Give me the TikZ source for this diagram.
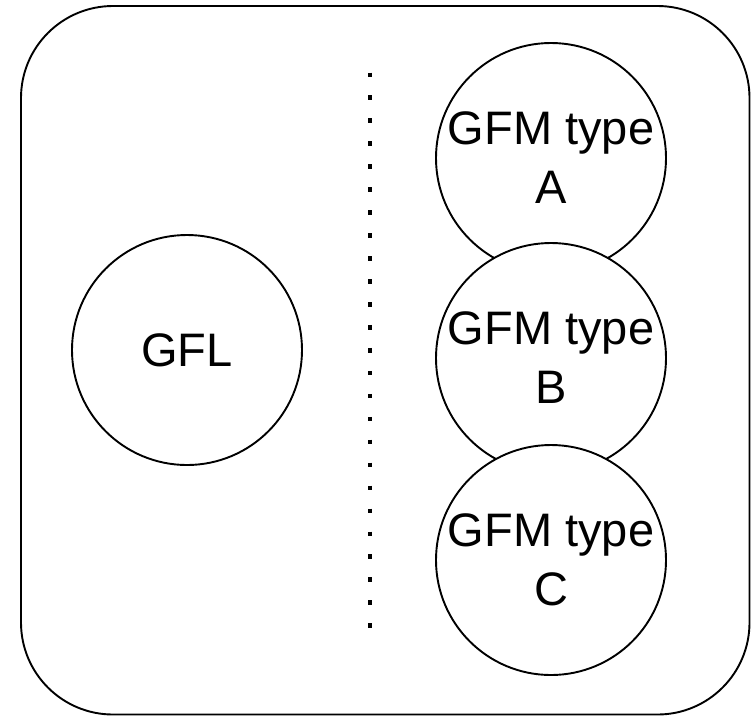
\documentclass[tikz,border=0pt]{standalone}
\usepackage{fontspec}
\setmainfont{Liberation Sans}
\usetikzlibrary{positioning}

\begin{document}
\begin{tikzpicture}[x=1pt,y=-1pt,
                unit/.style={circle,draw,fill=white,line width=1.9pt,minimum size=230pt,inner sep=0pt,align=center,
                  font=\fontsize{47}{59}\selectfont}]
                \useasboundingbox (0,0) rectangle (751,716);
                \draw[line width=1.9pt,rounded corners=92pt] (21,6) rectangle (749.5,714.5);
                \node[unit] (gfl) at (187,350) {GFL};
                \node[unit] (gfma) at (551,158) {GFM type\\A};
                \node[unit] (gfmb) at (551,358) {GFM type\\B};
                \node[unit] (gfmc) at (551,560) {GFM type\\C};
                \coordinate (top) at (370,72.5);
                \coordinate (bot) at (370,640);
                \draw[line width=4.6pt,dash pattern=on 4.6pt off 18.35pt] (top) -- (bot);
              \end{tikzpicture}
\end{document}
